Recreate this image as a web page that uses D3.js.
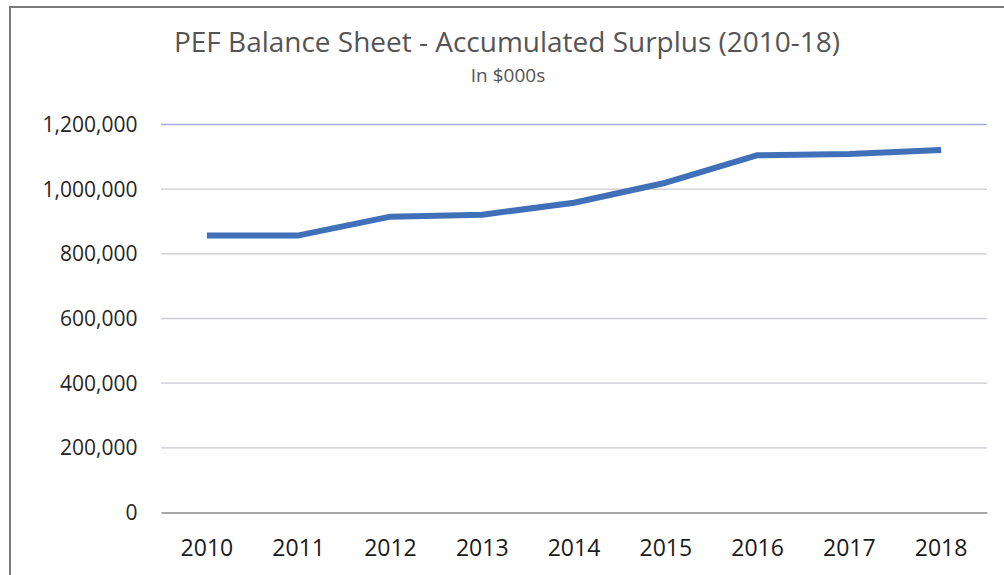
<!DOCTYPE html>
<html>
<head>
<meta charset="utf-8">
<script src="https://cdn.jsdelivr.net/npm/d3@7"></script>
<style>
  html, body { margin: 0; padding: 0; background: #ffffff; }
  svg { display: block; }
  text { font-family: "Open Sans", "Noto Sans", sans-serif; }
</style>
</head>
<body>
<svg id="chart" width="1004" height="575"></svg>
<script>
// Accumulated surplus, in $000s
const years = ["2010", "2011", "2012", "2013", "2014", "2015", "2016", "2017", "2018"];
const surplus = [857000, 857000, 915000, 921000, 958000, 1020000, 1105000, 1109000, 1121000];
const yTicks = [0, 200000, 400000, 600000, 800000, 1000000, 1200000];
const titleText = "PEF Balance Sheet - Accumulated Surplus (2010-18)";
const subtitleText = "In $000s";

const svg = d3.select("#chart");
const W = 1004, H = 575;
const plot = { left: 161, right: 987, top: 124.5, bottom: 512.5 };

// chart frame (top and left edges)
svg.append("path")
  .attr("d", `M10,${H} L10,7 L${W},7`)
  .attr("fill", "none")
  .attr("stroke", "#7a7a7a")
  .attr("stroke-width", 2);

const x = d3.scaleBand().domain(years).range([plot.left, plot.right]).padding(0);
const y = d3.scaleLinear().domain([0, 1200000]).range([plot.bottom, plot.top]);

// horizontal gridlines
svg.append("g")
  .selectAll("line")
  .data(yTicks.filter(d => d > 0))
  .join("line")
  .attr("x1", plot.left).attr("x2", plot.right)
  .attr("y1", d => y(d)).attr("y2", d => y(d))
  .attr("stroke", d => d === 1200000 ? "#aaacd8" : "#c9cad2")
  .attr("stroke-width", 1.4);

// y axis labels
const fmt = d3.format(",");
svg.append("g")
  .selectAll("text")
  .data(yTicks)
  .join("text")
  .attr("x", 137.5)
  .attr("y", d => y(d))
  .attr("dy", "0.36em")
  .attr("text-anchor", "end")
  .attr("font-size", 21)
  .attr("fill", "#262626")
  .text(d => fmt(d));

// x axis (baseline + year labels)
const xAxis = d3.axisBottom(x).tickSize(0).tickPadding(0);
const gx = svg.append("g")
  .attr("transform", `translate(0,${y(0)})`)
  .call(xAxis);
gx.select(".domain").attr("stroke", "#8c8c8c").attr("stroke-width", 1.5);
gx.selectAll(".tick text")
  .attr("y", 0)
  .attr("dy", 43)
  .attr("font-size", 23)
  .attr("font-family", "\"Open Sans\", \"Noto Sans\", sans-serif")
  .attr("fill", "#1a1a1a");

// surplus line
const line = d3.line()
  .x((d, i) => x(years[i]) + x.bandwidth() / 2)
  .y(d => y(d));

svg.append("path")
  .datum(surplus)
  .attr("d", line)
  .attr("fill", "none")
  .attr("stroke", "#4071b8")
  .attr("stroke-width", 6)
  .attr("stroke-linejoin", "round");

// titles
svg.append("text")
  .attr("x", 507).attr("y", 52)
  .attr("text-anchor", "middle")
  .attr("font-size", 27)
  .attr("textLength", 666)
  .attr("lengthAdjust", "spacingAndGlyphs")
  .attr("fill", "#555555")
  .text(titleText);

svg.append("text")
  .attr("x", 508).attr("y", 82)
  .attr("text-anchor", "middle")
  .attr("font-size", 19)
  .attr("fill", "#555555")
  .text(subtitleText);
</script>
</body>
</html>
